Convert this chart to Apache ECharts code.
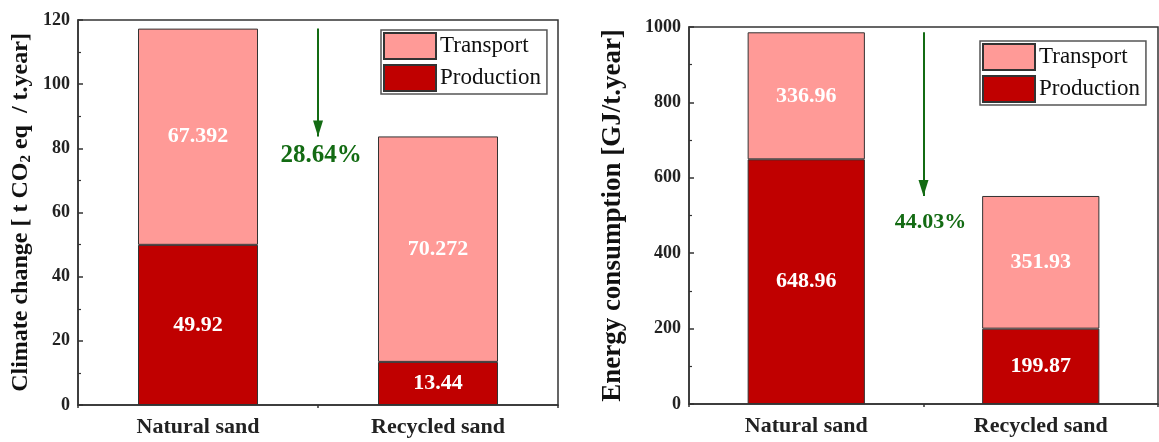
<!DOCTYPE html>
<html>
<head>
<meta charset="utf-8">
<script src="https://cdn.jsdelivr.net/npm/echarts@6/dist/echarts.min.js"></script>
<style>
html,body{margin:0;padding:0;background:#fff;}
#c{width:1159px;height:442px;}
</style>
</head>
<body>
<div id="c"></div>
<script>
// ---- data ----
const categories = ['Natural sand', 'Recycled sand'];
const climateProduction = [49.92, 13.44];
const climateTransport = [67.392, 70.272];
const energyProduction = [648.96, 199.87];
const energyTransport = [336.96, 351.93];
const reductionLabels = ['28.64%', '44.03%'];
const climateTicks = [0, 120, 20];   // min, max, interval
const energyTicks = [0, 1000, 200];

const FONT = 'Liberation Serif';
const PROD = '#c00000';
const TRANS = '#ff9a97';
const GREEN = '#136b13';
const AX = '#333';

const sum = (a, b) => a.map((v, i) => +(v + b[i]).toFixed(3));
const climateTotal = sum(climateProduction, climateTransport);
const energyTotal = sum(energyProduction, energyTransport);

const chart = echarts.init(document.getElementById('c'), null, {renderer: 'canvas'});

function catAxis(grid) {
  return {
    type: 'category', gridIndex: grid, data: categories,
    axisLine: {lineStyle: {color: AX, width: 1.5}},
    axisTick: {alignWithLabel: true, length: 6, lineStyle: {color: AX, width: 1.5}},
    axisLabel: {fontFamily: FONT, fontWeight: 'bold', fontSize: 22, color: '#222', margin: 11},
    splitLine: {show: false}
  };
}
function helperAxis(grid) {
  return {
    type: 'value', gridIndex: grid, min: 0, max: 2, interval: 1, position: 'bottom',
    axisLine: {show: false},
    axisTick: {show: true, length: 3, lineStyle: {color: AX, width: 1.5}},
    axisLabel: {show: false}, splitLine: {show: false}
  };
}
function valAxis(grid, ticks, name, rich, gap) {
  return {
    type: 'value', gridIndex: grid, min: ticks[0], max: ticks[1], interval: ticks[2],
    name: name, nameLocation: 'middle', nameGap: gap,
    nameTextStyle: {rich: rich},
    axisLine: {show: true, lineStyle: {color: AX, width: 1.5}},
    axisTick: {show: true, inside: true, length: 5, lineStyle: {color: AX, width: 1.5}},
    minorTick: {show: true, splitNumber: 2, length: 3, lineStyle: {color: AX, width: 1.2}},
    axisLabel: {fontFamily: FONT, fontWeight: 'bold', fontSize: 18, color: '#222', margin: 8,
                formatter: v => String(v)},
    splitLine: {show: false}
  };
}
function barSeries(name, color, data, xi, yi) {
  return {
    type: 'bar', name: name, stack: 's' + xi, xAxisIndex: xi, yAxisIndex: yi,
    data: data, barWidth: '50%',
    itemStyle: {color: color, borderColor: '#333', borderWidth: 1},
    label: {show: true, position: 'inside', color: '#fff', fontFamily: FONT,
            fontWeight: 'bold', fontSize: 22},
    emphasis: {disabled: true}
  };
}
function arrowSeries(xi, yi, from, to, text, fs, off) {
  return {
    type: 'scatter', xAxisIndex: xi, yAxisIndex: yi, symbolSize: 0, silent: true,
    data: [[1, to]],
    itemStyle: {opacity: 1},
    label: {show: true, position: 'inside', formatter: text, color: GREEN,
            fontFamily: FONT, fontWeight: 'bold', fontSize: fs, offset: off},
    emphasis: {disabled: true},
    markLine: {
      silent: true, symbol: ['none', 'none'],
      lineStyle: {color: GREEN, width: 2, type: 'solid'},
      label: {show: false},
      data: [[{coord: [1, from]}, {coord: [1, to]}]]
    },
    markPoint: {
      silent: true, symbol: 'triangle', symbolSize: [10, 16], symbolRotate: 180,
      symbolOffset: [0, -8], itemStyle: {color: GREEN}, label: {show: false},
      data: [{coord: [1, to]}]
    }
  };
}
function legend(left, top) {
  return {
    orient: 'vertical', left: left, top: top, data: ['Transport', 'Production'],
    icon: 'rect', itemWidth: 52, itemHeight: 26, itemGap: 4,
    padding: [2, 6, 2, 2], borderColor: '#555', borderWidth: 1.5, backgroundColor: '#fff',
    selectedMode: false,
    textStyle: {fontFamily: FONT, fontSize: 23, color: '#111', padding: [0, 0, 0, -1]}
  };
}

const titleRichL = {
  t: {fontFamily: FONT, fontWeight: 'bold', fontSize: 24, color: '#111', lineHeight: 26},
  s: {fontFamily: FONT, fontWeight: 'bold', fontSize: 15, color: '#111', verticalAlign: 'bottom'}
};
const titleRichR = {
  t: {fontFamily: FONT, fontWeight: 'bold', fontSize: 27, color: '#111', lineHeight: 28}
};

const option = {
  animation: false,
  textStyle: {fontFamily: FONT},
  grid: [
    {left: 78, top: 20, width: 480, height: 385, show: true, borderColor: AX, borderWidth: 1.5},
    {left: 689, top: 27, width: 469, height: 377, show: true, borderColor: AX, borderWidth: 1.5}
  ],
  legend: [legend(381, 30), legend(980, 41)],
  xAxis: [catAxis(0), helperAxis(0), catAxis(1), helperAxis(1)],
  yAxis: [
    valAxis(0, climateTicks, '{t|Climate change [ t CO}{s|2}{t| eq  / t.year]}', titleRichL, 44),
    valAxis(1, energyTicks, '{t|Energy consumption [GJ/t.year]}', titleRichR, 62)
  ],
  series: [
    barSeries('Production', PROD, climateProduction, 0, 0),
    barSeries('Transport', TRANS, climateTransport, 0, 0),
    barSeries('Production', PROD, energyProduction, 2, 1),
    barSeries('Transport', TRANS, energyTransport, 2, 1),
    arrowSeries(1, 0, climateTotal[0], climateTotal[1], reductionLabels[0], 25, [3, 19]),
    arrowSeries(3, 1, energyTotal[0], energyTotal[1], reductionLabels[1], 22, [7, 26])
  ]
};
chart.setOption(option);
</script>
</body>
</html>
